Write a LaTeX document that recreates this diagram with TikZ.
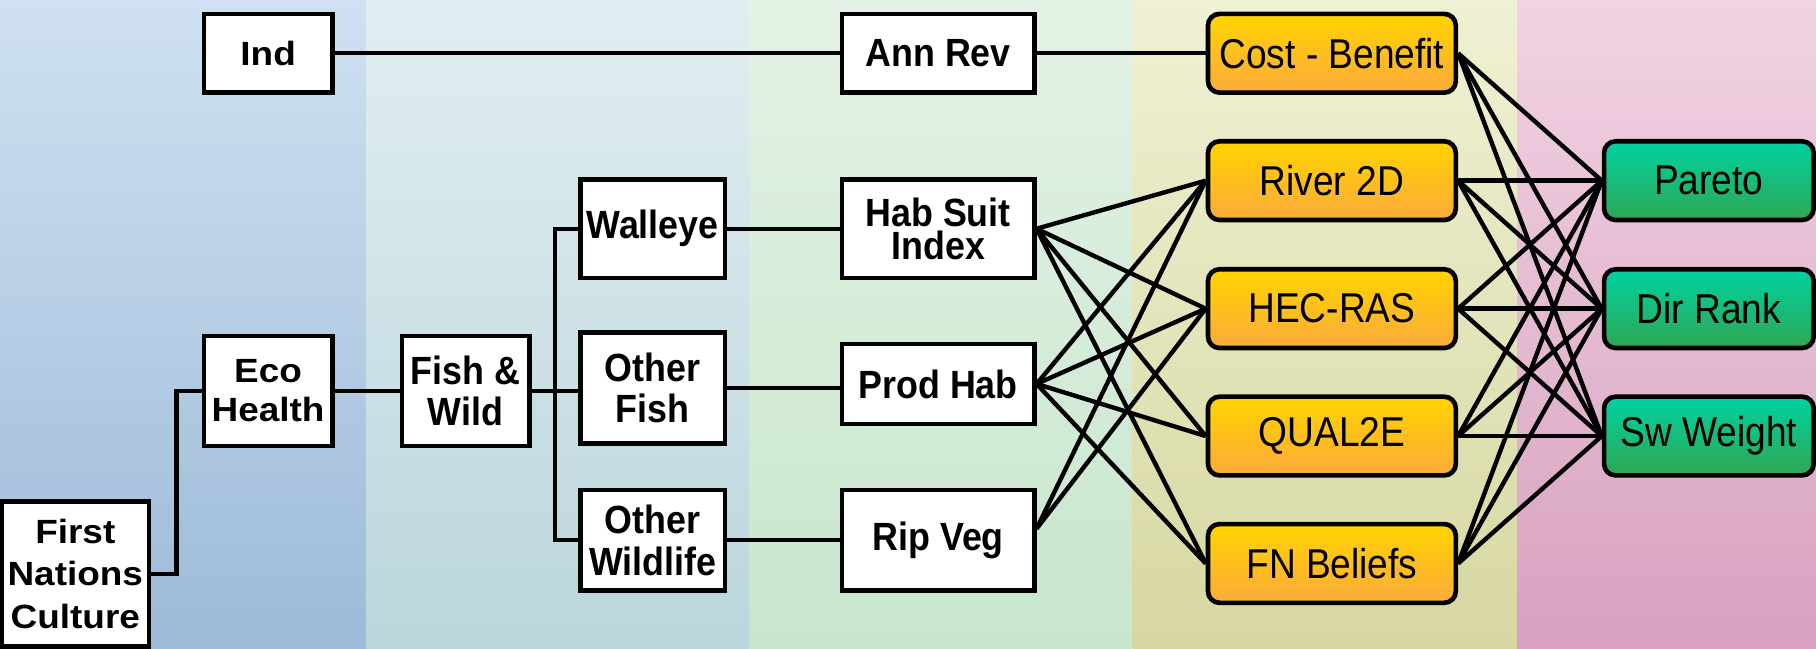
\documentclass[tikz,border=0pt]{standalone}
\usepackage{fontspec}
\setmainfont{Liberation Sans}
\newfontfamily\objface[FakeStretch=1.1]{Liberation Sans Bold}
\newfontfamily\indface[FakeStretch=0.91]{Liberation Sans Bold}
\newfontfamily\modelface[FakeStretch=0.89]{Liberation Sans}
\usetikzlibrary{calc,shadings}

% column backgrounds
\definecolor{bandAtop}{HTML}{CFE1F2}
\definecolor{bandAbot}{HTML}{9DBAD8}
\definecolor{bandBtop}{HTML}{E1EEF1}
\definecolor{bandBbot}{HTML}{BAD6DC}
\definecolor{bandCtop}{HTML}{E3F2E5}
\definecolor{bandCbot}{HTML}{C8E6CD}
\definecolor{bandDtop}{HTML}{EFF1D3}
\definecolor{bandDbot}{HTML}{D7D7A2}
\definecolor{bandEtop}{HTML}{F1D3E3}
\definecolor{bandEbot}{HTML}{D8A1C0}
% box fills
\definecolor{orTop}{HTML}{FFD400}
\definecolor{orBot}{HTML}{FCAA3C}
\definecolor{grTop}{HTML}{00D2A2}
\definecolor{grBot}{HTML}{2FA653}

\begin{document}
\begin{tikzpicture}[x=0.5pt,y=-0.5pt,
  box/.style={draw=black, line width=2pt, fill=white, inner sep=0pt,
    align=center, font=\indface\fontsize{17}{18}\selectfont},
  widebox/.style={box, font=\objface\fontsize{14.5}{17}\selectfont},
  model/.style={draw=black, line width=2pt, rounded corners=5pt,
    top color=orTop, bottom color=orBot, minimum width=107pt,
    minimum height=34pt, inner sep=0pt, align=center,
    font=\modelface\fontsize{18}{20}\selectfont},
  method/.style={model, top color=grTop, bottom color=grBot, minimum width=90.5pt},
  link/.style={line width=1.9pt, draw=black}
]
\useasboundingbox (0,0) rectangle (1568,560);

% background columns
\shade[top color=bandAtop, bottom color=bandAbot] (0,0) rectangle (316,560);
\shade[top color=bandBtop, bottom color=bandBbot] (316,0) rectangle (647,560);
\shade[top color=bandCtop, bottom color=bandCbot] (647,0) rectangle (978,560);
\shade[top color=bandDtop, bottom color=bandDbot] (978,0) rectangle (1310,560);
\shade[top color=bandEtop, bottom color=bandEbot] (1310,0) rectangle (1568,560);

% objectives
\node[widebox, minimum width=55.5pt, minimum height=34pt] (ind) at (231.5,46) {Ind};
\node[widebox, minimum width=55.5pt, minimum height=47.5pt] (eco) at (231.5,337.5) {Eco\\Health};
\node[widebox, minimum width=63.5pt, minimum height=62.5pt,
  font=\objface\fontsize{14.5}{18.5}\selectfont] (fnc) at (65,495.5) {First\\Nations\\Culture};
\node[box, minimum width=55pt, minimum height=47.5pt] (fw) at (402,337.5) {Fish \&\\Wild};
\node[box, minimum width=62.5pt, minimum height=42.5pt] (wal) at (563.5,197.5) {Walleye};
\node[box, minimum width=62.5pt, minimum height=48pt] (ofi) at (563.5,335) {Other\\Fish};
\node[box, minimum width=62.5pt, minimum height=43.5pt] (owl) at (563.5,466.5) {Other\\Wildlife};

% indicators
\node[box, minimum width=83pt, minimum height=34pt] (ann) at (810,46) {Ann Rev};
\node[box, minimum width=83pt, minimum height=42.5pt,
  font=\indface\fontsize{17}{14.5}\selectfont] (hsi) at (810,197.5) {Hab Suit\\Index};
\node[box, minimum width=83pt, minimum height=34.5pt] (ph) at (810,331.5) {Prod Hab};
\node[box, minimum width=83pt, minimum height=43.5pt] (rv) at (810,466.5) {Rip Veg};

% models
\node[model] (cb) at (1150,46) {Cost - Benefit};
\node[model] (r2d) at (1150,156) {River 2D};
\node[model] (hec) at (1150,266.5) {HEC-RAS};
\node[model] (q2e) at (1150,376.5) {QUAL2E};
\node[model] (fnb) at (1150,486.5) {FN Beliefs};

% ranking methods
\node[method] (par) at (1475.5,156) {Pareto};
\node[method] (dir) at (1475.5,266.5) {Dir Rank};
\node[method] (sww) at (1475.5,376.5) {Sw Weight};

% hierarchy links
\draw[link] (ind) -- (ann) -- (cb);
\draw[link] (fnc.east) -- ++(11pt,0) |- (eco.west);
\draw[link] (eco) -- (fw);
\draw[link] (fw.east) -- (fw.east -| ofi.west);
\draw[link] (wal.west) -| ($(fw.east)!0.5!(ofi.west)$) |- (owl.west);
\draw[link] (wal) -- (hsi);
\draw[link] (ofi.east) -- (ofi.east -| ph.west);
\draw[link] (owl) -- (rv);

% indicators to models
\foreach \s in {hsi,ph}
  \foreach \t in {r2d,hec,q2e,fnb}
    \draw[link] (\s.east) -- (\t.west);
\foreach \t in {r2d,hec}
  \draw[link] ([yshift=5pt]rv.east) -- (\t.west);

% models to ranking methods
\foreach \s in {cb,r2d,hec,q2e,fnb}
  \foreach \t in {par,dir,sww}
    \draw[link] (\s.east) -- (\t.west);
\end{tikzpicture}
\end{document}
